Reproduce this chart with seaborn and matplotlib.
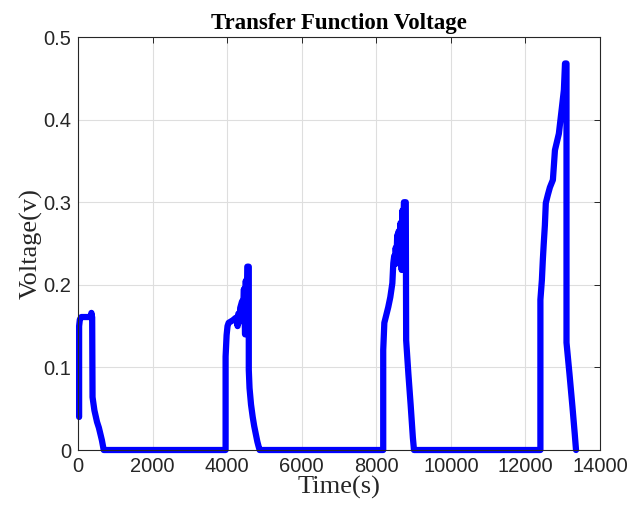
import matplotlib
matplotlib.use("Agg")
import matplotlib.pyplot as plt
import seaborn as sns
import pandas as pd
import numpy as np

# Transfer function output voltage over four charging pulses
pulse1_t = [30, 30, 50, 90, 340, 360, 375, 380, 390, 440, 510, 560, 640, 690]
pulse1_v = [0.040, 0.150, 0.158, 0.161, 0.161, 0.166, 0.161, 0.161, 0.064, 0.048, 0.034, 0.027, 0.012, 0.0]

pulse2_t = [3958, 3958, 3985, 4010, 4040, 4150, 4230, 4250, 4280, 4300, 4330, 4350, 4400, 4420,
            4450, 4480, 4500, 4520, 4540, 4560, 4580, 4580, 4600, 4640, 4685, 4725, 4765, 4810, 4845, 4870]
pulse2_v = [0.0, 0.113, 0.139, 0.150, 0.154, 0.157, 0.160, 0.160, 0.150, 0.165, 0.155, 0.172, 0.180, 0.165,
            0.195, 0.140, 0.205, 0.145, 0.222, 0.222, 0.222, 0.097, 0.075, 0.055, 0.040, 0.029, 0.020, 0.010, 0.004, 0.0]

pulse3_t = [8185, 8185, 8215, 8265, 8320, 8375, 8430, 8455, 8480, 8500, 8520, 8540, 8560, 8580, 8600,
            8630, 8650, 8680, 8700, 8720, 8740, 8790, 8800, 8860, 8920, 8980, 9010]
pulse3_v = [0.0, 0.121, 0.154, 0.163, 0.173, 0.185, 0.202, 0.226, 0.235, 0.225, 0.245, 0.230, 0.260, 0.240, 0.265,
            0.225, 0.275, 0.218, 0.290, 0.250, 0.300, 0.300, 0.133, 0.092, 0.055, 0.015, 0.0]

pulse4_t = [12400, 12400, 12440, 12465, 12490, 12520, 12545, 12600, 12655, 12735, 12790, 12895, 12975,
            13030, 13060, 13100, 13100, 13180, 13260, 13320, 13355]
pulse4_v = [0.0, 0.182, 0.206, 0.230, 0.250, 0.272, 0.299, 0.309, 0.318, 0.327, 0.363, 0.383, 0.414,
            0.436, 0.468, 0.468, 0.130, 0.092, 0.052, 0.020, 0.0]

x_ticks = [0, 2000, 4000, 6000, 8000, 10000, 12000, 14000]
y_ticks = [0, 0.1, 0.2, 0.3, 0.4, 0.5]
y_tick_labels = ["0", "0.1", "0.2", "0.3", "0.4", "0.5"]

time = pulse1_t + pulse2_t + pulse3_t + pulse4_t
volt = pulse1_v + pulse2_v + pulse3_v + pulse4_v
df = pd.DataFrame({"Time": time, "Voltage": volt})

sns.set_style("white")
plt.rcParams["font.family"] = ["Liberation Sans", "DejaVu Sans"]

fig = plt.figure(figsize=(6.29, 5.13), dpi=100)
ax = fig.add_axes([0.124, 0.1228, 0.830, 0.8050])

sns.lineplot(data=df, x="Time", y="Voltage", sort=False, estimator=None,
             color="#0000ff", linewidth=4.5, ax=ax, clip_on=False)

ax.set_xlim(0, 14000)
ax.set_ylim(0, 0.5)
ax.set_xticks(x_ticks)
ax.set_xticklabels([str(t) for t in x_ticks])
ax.set_yticks(y_ticks)
ax.set_yticklabels(y_tick_labels)

ax.grid(True, color="#dedede", linewidth=0.8)
ax.set_axisbelow(True)
for s in ax.spines.values():
    s.set_visible(True)
    s.set_color("#262626")
    s.set_linewidth(0.8)
ax.tick_params(direction="in", length=4, width=0.7, color="#262626",
               top=True, right=True, labelsize=14.5, labelcolor="#262626", pad=5)

serif = ["Liberation Serif", "DejaVu Serif"]
ax.set_title("Transfer Function Voltage", family=serif, fontweight="bold", fontsize=16.5,
             color="black", pad=6)
ax.set_xlabel("Time(s)", family=serif, fontsize=19, labelpad=0, color="#262626")
ax.set_ylabel("Voltage(v)", family=serif, fontsize=19, labelpad=0, color="#262626")

fig.savefig("out.png", dpi=100)
